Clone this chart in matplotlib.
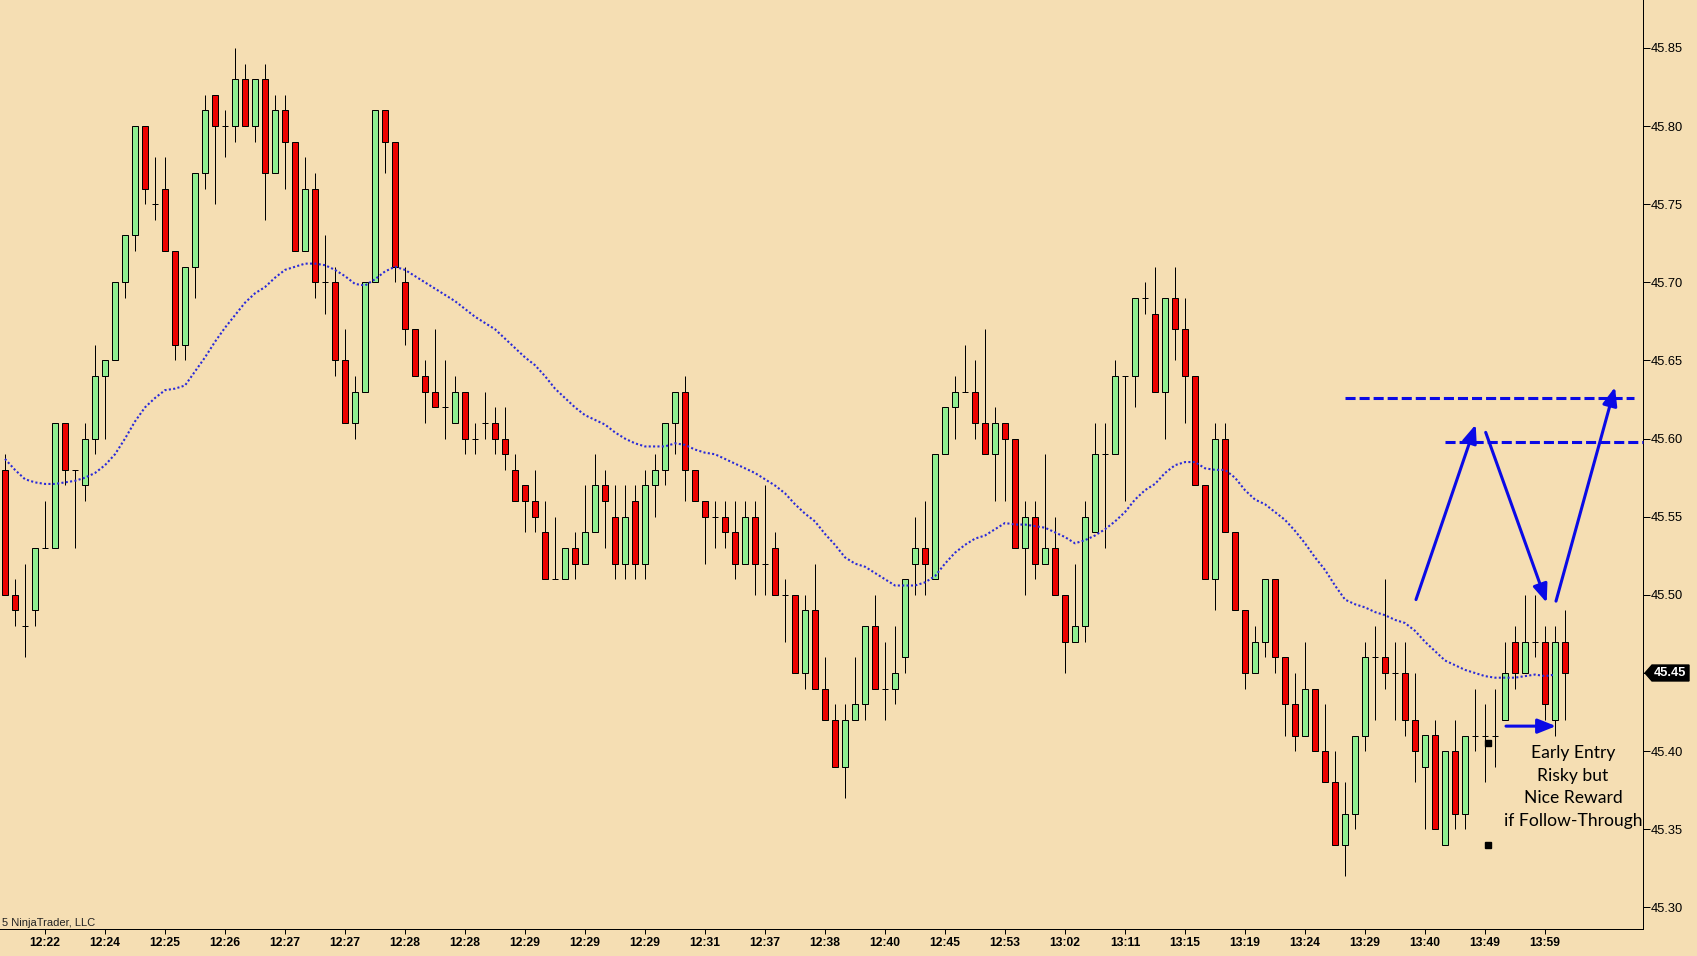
import matplotlib
matplotlib.use("Agg")
import matplotlib.pyplot as plt
from matplotlib.patches import Rectangle, Polygon
from matplotlib.transforms import blended_transform_factory

# ---------------- data ----------------
opens = [45.58, 45.50, 45.48, 45.49, 45.53, 45.53, 45.61, 45.58, 45.57, 45.60,
         45.64, 45.65, 45.70, 45.73, 45.80, 45.75, 45.76, 45.72, 45.66, 45.71,
         45.77, 45.82, 45.80, 45.80, 45.83, 45.80, 45.83, 45.77, 45.81, 45.79,
         45.72, 45.76, 45.70, 45.70, 45.65, 45.61, 45.63, 45.70, 45.81, 45.79,
         45.70, 45.67, 45.64, 45.63, 45.62, 45.61, 45.63, 45.60, 45.61, 45.61,
         45.60, 45.58, 45.57, 45.56, 45.54, 45.51, 45.51, 45.53, 45.52, 45.54,
         45.57, 45.55, 45.52, 45.56, 45.52, 45.57, 45.58, 45.61, 45.63, 45.58,
         45.56, 45.55, 45.55, 45.54, 45.52, 45.55, 45.52, 45.53, 45.50, 45.50,
         45.45, 45.49, 45.44, 45.42, 45.39, 45.42, 45.43, 45.48, 45.44, 45.44,
         45.46, 45.52, 45.53, 45.51, 45.59, 45.62, 45.63, 45.63, 45.61, 45.59,
         45.61, 45.60, 45.53, 45.55, 45.52, 45.53, 45.50, 45.47, 45.48, 45.54,
         45.59, 45.59, 45.64, 45.64, 45.69, 45.68, 45.63, 45.69, 45.67, 45.64,
         45.57, 45.51, 45.60, 45.54, 45.49, 45.45, 45.47, 45.51, 45.46, 45.43,
         45.41, 45.44, 45.40, 45.38, 45.34, 45.36, 45.41, 45.46, 45.46, 45.45,
         45.45, 45.42, 45.39, 45.41, 45.34, 45.40, 45.36, 45.41, 45.41, 45.41,
         45.42, 45.47, 45.45, 45.47, 45.47, 45.42, 45.47]
highs = [45.59, 45.51, 45.52, 45.53, 45.56, 45.61, 45.61, 45.58, 45.61, 45.66,
         45.65, 45.70, 45.73, 45.80, 45.80, 45.78, 45.78, 45.72, 45.71, 45.77,
         45.82, 45.82, 45.81, 45.85, 45.84, 45.83, 45.84, 45.82, 45.82, 45.79,
         45.78, 45.77, 45.73, 45.71, 45.67, 45.64, 45.70, 45.81, 45.81, 45.79,
         45.71, 45.67, 45.65, 45.67, 45.65, 45.64, 45.63, 45.61, 45.63, 45.62,
         45.62, 45.59, 45.57, 45.58, 45.56, 45.55, 45.53, 45.54, 45.57, 45.59,
         45.58, 45.57, 45.57, 45.57, 45.58, 45.59, 45.61, 45.63, 45.64, 45.58,
         45.56, 45.56, 45.56, 45.56, 45.56, 45.56, 45.57, 45.54, 45.51, 45.50,
         45.50, 45.52, 45.46, 45.43, 45.43, 45.46, 45.48, 45.50, 45.47, 45.48,
         45.51, 45.55, 45.56, 45.59, 45.62, 45.64, 45.66, 45.65, 45.67, 45.62,
         45.61, 45.60, 45.56, 45.56, 45.59, 45.55, 45.50, 45.52, 45.56, 45.61,
         45.61, 45.65, 45.64, 45.69, 45.70, 45.71, 45.69, 45.71, 45.69, 45.64,
         45.57, 45.61, 45.61, 45.54, 45.49, 45.48, 45.51, 45.51, 45.46, 45.45,
         45.47, 45.44, 45.43, 45.40, 45.38, 45.41, 45.47, 45.48, 45.51, 45.47,
         45.47, 45.45, 45.41, 45.42, 45.40, 45.42, 45.41, 45.44, 45.43, 45.44,
         45.47, 45.48, 45.50, 45.50, 45.48, 45.48, 45.49]
lows = [45.50, 45.48, 45.46, 45.48, 45.53, 45.53, 45.57, 45.53, 45.56, 45.59,
        45.60, 45.65, 45.69, 45.72, 45.75, 45.74, 45.72, 45.65, 45.65, 45.69,
        45.76, 45.75, 45.78, 45.79, 45.80, 45.79, 45.74, 45.77, 45.76, 45.72,
        45.72, 45.69, 45.68, 45.64, 45.61, 45.60, 45.63, 45.70, 45.77, 45.70,
        45.66, 45.64, 45.61, 45.62, 45.60, 45.61, 45.59, 45.59, 45.60, 45.59,
        45.58, 45.56, 45.54, 45.54, 45.51, 45.51, 45.51, 45.51, 45.52, 45.54,
        45.53, 45.51, 45.51, 45.51, 45.51, 45.55, 45.57, 45.59, 45.56, 45.56,
        45.52, 45.53, 45.53, 45.51, 45.52, 45.50, 45.50, 45.50, 45.47, 45.45,
        45.44, 45.44, 45.42, 45.39, 45.37, 45.42, 45.42, 45.44, 45.42, 45.43,
        45.45, 45.50, 45.50, 45.51, 45.59, 45.60, 45.63, 45.60, 45.59, 45.56,
        45.56, 45.53, 45.50, 45.51, 45.52, 45.50, 45.45, 45.47, 45.47, 45.54,
        45.53, 45.59, 45.56, 45.62, 45.68, 45.63, 45.60, 45.65, 45.61, 45.57,
        45.51, 45.49, 45.54, 45.49, 45.44, 45.45, 45.46, 45.45, 45.41, 45.40,
        45.41, 45.40, 45.38, 45.34, 45.32, 45.35, 45.40, 45.42, 45.44, 45.42,
        45.41, 45.38, 45.35, 45.35, 45.34, 45.35, 45.35, 45.40, 45.38, 45.39,
        45.42, 45.44, 45.45, 45.46, 45.42, 45.41, 45.42]
closes = [45.50, 45.49, 45.48, 45.53, 45.53, 45.61, 45.58, 45.58, 45.60, 45.64,
          45.65, 45.70, 45.73, 45.80, 45.76, 45.75, 45.72, 45.66, 45.71, 45.77,
          45.81, 45.80, 45.80, 45.83, 45.80, 45.83, 45.77, 45.81, 45.79, 45.72,
          45.76, 45.70, 45.70, 45.65, 45.61, 45.63, 45.70, 45.81, 45.79, 45.71,
          45.67, 45.64, 45.63, 45.62, 45.62, 45.63, 45.60, 45.60, 45.61, 45.60,
          45.59, 45.56, 45.56, 45.55, 45.51, 45.51, 45.53, 45.52, 45.54, 45.57,
          45.56, 45.52, 45.55, 45.52, 45.57, 45.58, 45.61, 45.63, 45.58, 45.56,
          45.55, 45.55, 45.54, 45.52, 45.55, 45.52, 45.52, 45.50, 45.50, 45.45,
          45.49, 45.44, 45.42, 45.39, 45.42, 45.43, 45.48, 45.44, 45.44, 45.45,
          45.51, 45.53, 45.52, 45.59, 45.62, 45.63, 45.63, 45.61, 45.59, 45.61,
          45.60, 45.53, 45.55, 45.52, 45.53, 45.50, 45.47, 45.48, 45.55, 45.59,
          45.59, 45.64, 45.64, 45.69, 45.69, 45.63, 45.69, 45.67, 45.64, 45.57,
          45.51, 45.60, 45.54, 45.49, 45.45, 45.47, 45.51, 45.46, 45.43, 45.41,
          45.44, 45.40, 45.38, 45.34, 45.36, 45.41, 45.46, 45.46, 45.45, 45.45,
          45.42, 45.40, 45.41, 45.35, 45.40, 45.36, 45.41, 45.41, 45.41, 45.41,
          45.45, 45.45, 45.47, 45.47, 45.43, 45.47, 45.45]
moving_avg = [45.587, 45.580, 45.574, 45.572, 45.571, 45.571, 45.572, 45.573, 45.575, 45.578,
              45.583, 45.590, 45.600, 45.611, 45.620, 45.626, 45.631, 45.632, 45.634, 45.643,
              45.652, 45.662, 45.671, 45.679, 45.687, 45.693, 45.697, 45.703, 45.708, 45.710,
              45.712, 45.712, 45.711, 45.708, 45.704, 45.699, 45.698, 45.702, 45.707, 45.710,
              45.708, 45.704, 45.700, 45.696, 45.692, 45.688, 45.683, 45.678, 45.674, 45.670,
              45.664, 45.658, 45.652, 45.647, 45.640, 45.632, 45.626, 45.620, 45.615, 45.612,
              45.609, 45.604, 45.600, 45.597, 45.595, 45.595, 45.595, 45.597, 45.596, 45.593,
              45.591, 45.590, 45.587, 45.584, 45.581, 45.578, 45.574, 45.570, 45.565, 45.558,
              45.552, 45.547, 45.539, 45.532, 45.524, 45.520, 45.518, 45.514, 45.510, 45.506,
              45.506, 45.506, 45.508, 45.512, 45.520, 45.527, 45.532, 45.536, 45.538, 45.542,
              45.546, 45.545, 45.545, 45.544, 45.543, 45.540, 45.537, 45.533, 45.535, 45.538,
              45.542, 45.547, 45.553, 45.561, 45.567, 45.571, 45.578, 45.583, 45.585, 45.585,
              45.581, 45.580, 45.580, 45.575, 45.567, 45.561, 45.558, 45.553, 45.548, 45.541,
              45.533, 45.524, 45.516, 45.506, 45.497, 45.494, 45.492, 45.489, 45.487, 45.484,
              45.482, 45.477, 45.470, 45.464, 45.458, 45.455, 45.452, 45.450, 45.448, 45.447,
              45.447, 45.447, 45.448, 45.449, 45.448, 45.449]
time_labels = ["12:22", "12:24", "12:25", "12:26", "12:27", "12:27", "12:28", "12:28",
               "12:29", "12:29", "12:29", "12:31", "12:37", "12:38", "12:40", "12:45",
               "12:53", "13:02", "13:11", "13:15", "13:19", "13:24", "13:29", "13:40",
               "13:49", "13:59"]
price_ticks = [45.30, 45.35, 45.40, 45.45, 45.50, 45.55, 45.60, 45.65, 45.70, 45.75, 45.80, 45.85]
last_price = 45.45
annotation_text = "Early Entry\nRisky but\nNice Reward\nif Follow-Through"
copyright_text = "5 NinjaTrader, LLC"

# ---------------- styling ----------------
BG = "#F5DEB3"
UP = "#90EE90"
DOWN = "#EE0000"
ANN = "#0A0AE6"
MA_COLOR = "#2A2AD8"
PX = 0.72  # one pixel in points at dpi 100

fig = plt.figure(figsize=(16.97, 9.56), dpi=100)
fig.patch.set_facecolor(BG)
ax = fig.add_axes([0, 27 / 956, 1643 / 1697, 929 / 956])
ax.set_facecolor(BG)

n = len(opens)
xs = list(range(n))
bw = 0.52

# wicks
ax.vlines(xs, lows, highs, colors="black", linewidth=PX, zorder=2)
# bodies
for i in xs:
    o, c = opens[i], closes[i]
    if abs(o - c) < 1e-9:
        ax.hlines(o, i - bw / 2 - 0.05, i + bw / 2 + 0.05, colors="black", linewidth=PX, zorder=3)
    else:
        col = UP if c > o else DOWN
        ax.add_patch(Rectangle((i - bw / 2, min(o, c)), bw, abs(c - o),
                               facecolor=col, edgecolor="black", linewidth=PX, zorder=3))

# moving average (dotted)
ax.plot(range(len(moving_avg)), moving_avg, color=MA_COLOR, linewidth=1.5,
        linestyle=(0, (1.0, 1.1)), dash_capstyle="butt", zorder=4)

# axes limits
ax.set_xlim(-0.5, 163.8)
ax.set_ylim(45.28616, 45.88072)

# spines
for s in ["top", "left"]:
    ax.spines[s].set_visible(False)
for s in ["right", "bottom"]:
    ax.spines[s].set_linewidth(PX)
    ax.spines[s].set_color("black")

# x ticks
tick_pos = list(range(4, 4 + 6 * len(time_labels), 6))
ax.set_xticks(tick_pos)
ax.set_xticklabels(time_labels, fontfamily="Liberation Sans", fontweight="bold", fontsize=8.7)
ax.tick_params(axis="x", length=3.6, width=PX, pad=2.5, colors="black")

# y ticks on right
ax.yaxis.tick_right()
ax.set_yticks(price_ticks)
ax.set_yticklabels([f"{p:.2f}" for p in price_ticks], fontfamily="Liberation Sans", fontsize=9.3)
ax.tick_params(axis="y", length=4.8, width=PX, pad=0.8, colors="black")

# dashed target lines
ax.plot([134.0, 162.9], [45.626, 45.626], color=ANN, linewidth=2.2,
        linestyle=(0, (3.3, 1.3)), zorder=5)
ax.plot([144.0, 163.8], [45.598, 45.598], color=ANN, linewidth=2.2,
        linestyle=(0, (3.3, 1.3)), zorder=5, clip_on=False)

# arrows
arrow_style = "-|>,head_length=0.55,head_width=0.22"
arrows = [((141.1, 45.497), (147.07, 45.609)),
          ((148.07, 45.604), (154.17, 45.495)),
          ((155.1, 45.496), (161.0, 45.633)),
          ((150.1, 45.416), (155.1, 45.416))]
for start, end in arrows:
    ax.annotate("", xy=end, xytext=start,
                arrowprops=dict(arrowstyle=arrow_style, color=ANN, lw=2.2,
                                mutation_scale=20, shrinkA=0, shrinkB=0),
                zorder=6)

# small black markers
ax.plot([148.3, 148.3], [45.405, 45.340], linestyle="none", marker="s",
        markersize=4.2, color="black", zorder=6)

# annotation text
ax.text(156.8, 45.3770, annotation_text, ha="center", va="center",
        fontsize=12.6, fontfamily="Lato", linespacing=1.5, color="black", zorder=7)

# last price marker
tr = blended_transform_factory(fig.transFigure, ax.transData)
h = 0.0051
x0, x1, x2 = 1645 / 1697, 1652 / 1697, 1689 / 1697
poly = Polygon([(x0, last_price), (x1, last_price + h), (x2, last_price + h),
                (x2, last_price - h), (x1, last_price - h)], closed=True,
               facecolor="black", edgecolor="black", transform=tr, clip_on=False, zorder=10)
fig.add_artist(poly)
fig.text(1670 / 1697, last_price, f"{last_price:.2f}", transform=tr, ha="center", va="center",
         color="white", fontweight="bold", fontsize=9.3, fontfamily="Liberation Sans", zorder=11)

# copyright
fig.text(2 / 1697, (956 - 923) / 956, copyright_text, ha="left", va="center",
         fontsize=8, fontfamily="Liberation Sans", color="#222222")

fig.savefig("out.png", dpi=100, facecolor=BG)
